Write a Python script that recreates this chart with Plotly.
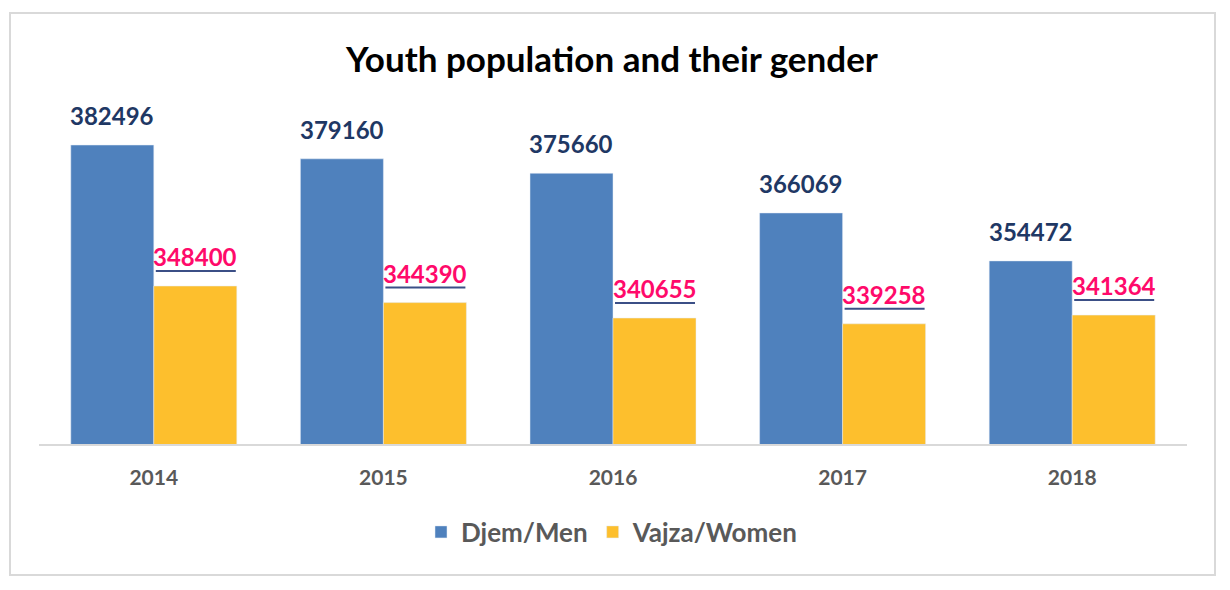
import plotly.graph_objects as go

years = ["2014", "2015", "2016", "2017", "2018"]
men = [382496, 379160, 375660, 366069, 354472]
women = [348400, 344390, 340655, 339258, 341364]
series_names = ["Djem/Men", "Vajza/Women"]
title_text = "Youth population and their gender"

BLUE = "#4f81bd"
YELLOW = "#fdbf2d"
NAVY = "#1f3864"
PINK = "#ff0a6a"
FONT = "Lato"

W, H = 1230, 590
L, R, T, B = 39, 43, 100, 146
plot_h = H - T - B
y0 = 310200
px_per_unit = 141 / 34096
y1 = y0 + plot_h / px_per_unit

fig = go.Figure()
fig.add_trace(go.Bar(x=years, y=men, name=f"<b>{series_names[0]}</b>", marker_color=BLUE))
fig.add_trace(go.Bar(x=years, y=women, name=f"<b>{series_names[1]}</b>", marker_color=YELLOW))

bargap = 0.277
bar_px = (W - L - R) / len(years) * (1 - bargap) / 2

annotations = []
shapes = []
for i, (yr, m, w) in enumerate(zip(years, men, women)):
    annotations.append(dict(x=i, y=m, xref="x", yref="y", text=f"<b>{m}</b>", showarrow=False,
                            xshift=-bar_px / 2, yshift=13, yanchor="bottom",
                            font=dict(family=FONT, size=24, color=NAVY)))
    annotations.append(dict(x=i, y=w, xref="x", yref="y", text=f"<b>{w}</b>", showarrow=False,
                            xshift=bar_px / 2, yshift=13, yanchor="bottom",
                            font=dict(family=FONT, size=24, color=PINK)))
    shapes.append(dict(type="line", xref="x", yref="y", xsizemode="pixel", ysizemode="pixel",
                       xanchor=i, yanchor=w, x0=2, x1=bar_px - 1, y0=15, y1=15,
                       line=dict(color="#3b4f86", width=2)))

def px_to_paper_x(px):
    return (px - L) / (W - L - R)

def px_to_paper_y(py):
    return (H - B - py) / plot_h

shapes.append(dict(type="rect", xref="paper", yref="paper",
                   x0=px_to_paper_x(10), x1=px_to_paper_x(1215),
                   y0=px_to_paper_y(575), y1=px_to_paper_y(13),
                   line=dict(color="#d9d9d9", width=2), fillcolor="rgba(0,0,0,0)",
                   layer="below"))

fig.update_layout(
    width=W, height=H,
    margin=dict(l=L, r=R, t=T, b=B),
    paper_bgcolor="white", plot_bgcolor="white",
    barmode="group", bargap=bargap, bargroupgap=0,
    title=dict(text=f"<b>{title_text}</b>", x=px_to_paper_x(612), xref="paper",
               y=1 - 60 / H, yanchor="middle", xanchor="center",
               font=dict(family=FONT, size=35, color="black")),
    showlegend=True,
    legend=dict(orientation="h", x=px_to_paper_x(612), xanchor="center",
                y=px_to_paper_y(532), yanchor="middle",
                font=dict(family=FONT, size=26, color="#595959"),
                itemwidth=30, traceorder="normal"),
    annotations=annotations,
    shapes=shapes,
)
fig.update_xaxes(type="category", range=[-0.5, len(years) - 0.5],
                 showline=True, linecolor="#d9d9d9", linewidth=2, ticks="",
                 ticklabelstandoff=14,
                 tickfont=dict(family=FONT, size=21, color="#595959"),
                 showgrid=False, tickprefix="<b>", ticksuffix="</b>")
fig.update_yaxes(range=[y0, y1], visible=False, showgrid=False)

fig.write_html("out.html")
